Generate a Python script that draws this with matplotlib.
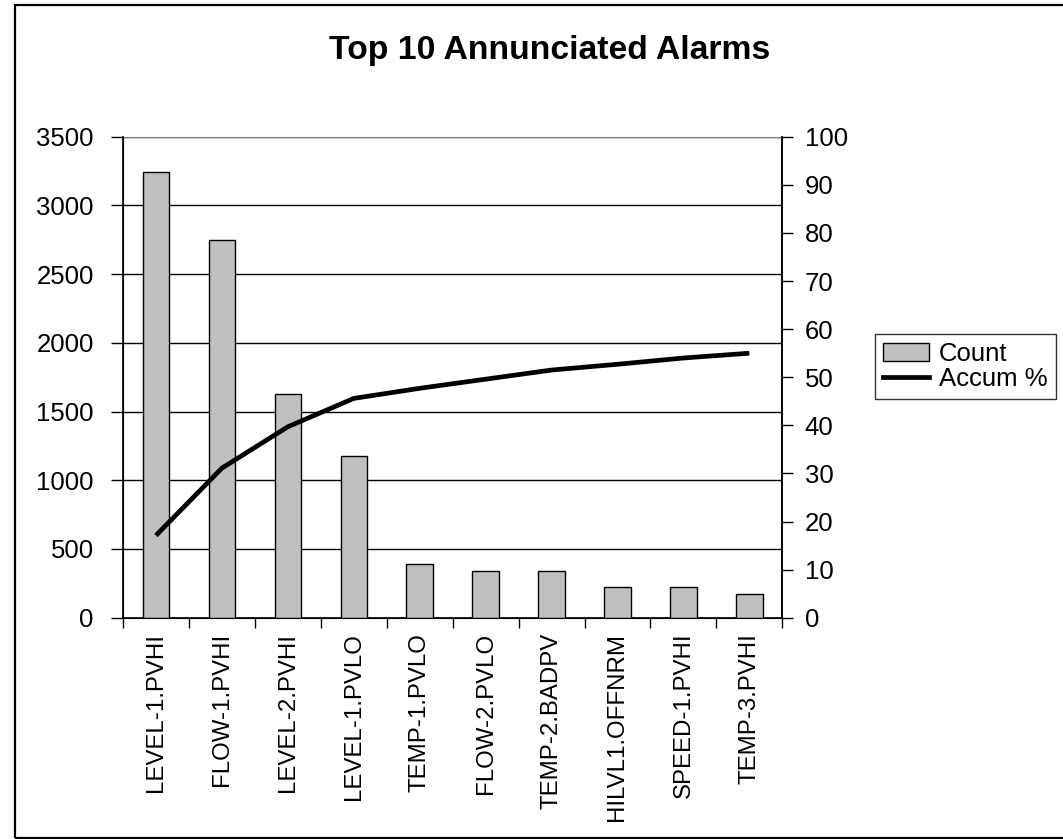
import matplotlib.pyplot as plt
from matplotlib.patches import Patch, Rectangle
from matplotlib.lines import Line2D
import numpy as np

plt.rcParams['font.family'] = ['Liberation Sans', 'DejaVu Sans']

# alarm tags, counts and accumulated percentage
alarms = ['LEVEL-1.PVHI', 'FLOW-1.PVHI', 'LEVEL-2.PVHI', 'LEVEL-1.PVLO', 'TEMP-1.PVLO',
          'FLOW-2.PVLO', 'TEMP-2.BADPV', 'HILVL1.OFFNRM', 'SPEED-1.PVHI', 'TEMP-3.PVHI']
counts = [3245, 2750, 1625, 1180, 390, 340, 340, 225, 225, 170]
accum_pct = [17.1, 31.1, 39.7, 45.6, 47.7, 49.6, 51.5, 52.7, 54.0, 55.0]

W, H = 1063, 839
fs = 18.5
fig = plt.figure(figsize=(W / 100, H / 100), dpi=100)

# chart border
fig.patches.append(Rectangle((15 / W, 1.5 / H), 1.2, (H - 6.5) / H, transform=fig.transFigure,
                             fill=False, edgecolor='black', linewidth=1.6))

ax = fig.add_axes([123 / W, 1 - 617.7 / H, (782.3 - 123) / W, (617.7 - 136.8) / H])
x = np.arange(len(alarms))

ax.bar(x, counts, width=0.4, color='#c0c0c0', edgecolor='black', linewidth=1, zorder=3)
ax.set_xlim(-0.5, len(alarms) - 0.5)
ax.set_ylim(0, 3500)
ax.set_yticks(np.arange(0, 3501, 500))
ax.yaxis.grid(True, color='black', linewidth=1)
ax.set_axisbelow(True)

ax.set_xticks(x)
ax.set_xticklabels(alarms, rotation=90, va='top', ha='center')
ax.set_xticks(np.arange(-0.5, len(alarms)), minor=True)
ax.tick_params(axis='x', which='major', length=0, pad=11, labelsize=17.3)
ax.tick_params(axis='x', which='minor', length=7, width=1, direction='out')
ax.tick_params(axis='y', length=9, width=1, labelsize=fs, pad=12)

for s in ['left', 'bottom', 'right']:
    ax.spines[s].set_linewidth(1.2)
ax.spines['top'].set_color('#808080')

ax2 = ax.twinx()
ax2.plot(x, accum_pct, color='black', linewidth=3.4, solid_capstyle='butt', zorder=4)
ax2.set_ylim(0, 100)
ax2.set_yticks(np.arange(0, 101, 10))
ax2.tick_params(axis='y', length=8, width=1, labelsize=fs, pad=8)
ax2.spines['top'].set_visible(False)
ax2.spines['right'].set_linewidth(1.2)

fig.text(550 / W, 1 - 50 / H, 'Top 10 Annunciated Alarms', ha='center', va='center',
         fontsize=24.3, fontweight='bold')

handles = [Patch(facecolor='#c0c0c0', edgecolor='black', linewidth=1),
           Line2D([], [], color='black', linewidth=3.4)]
leg = fig.legend(handles, ['Count', 'Accum %'], loc='upper left',
                 bbox_to_anchor=(875 / W, 1 - 334 / H), fontsize=fs, frameon=True,
                 fancybox=False, borderpad=0.3, handlelength=1.8, handleheight=0.7,
                 handletextpad=0.4, labelspacing=0.05, borderaxespad=0)
leg.get_frame().set_edgecolor('black')
leg.get_frame().set_linewidth(1)

fig.savefig('out.png', dpi=100)
